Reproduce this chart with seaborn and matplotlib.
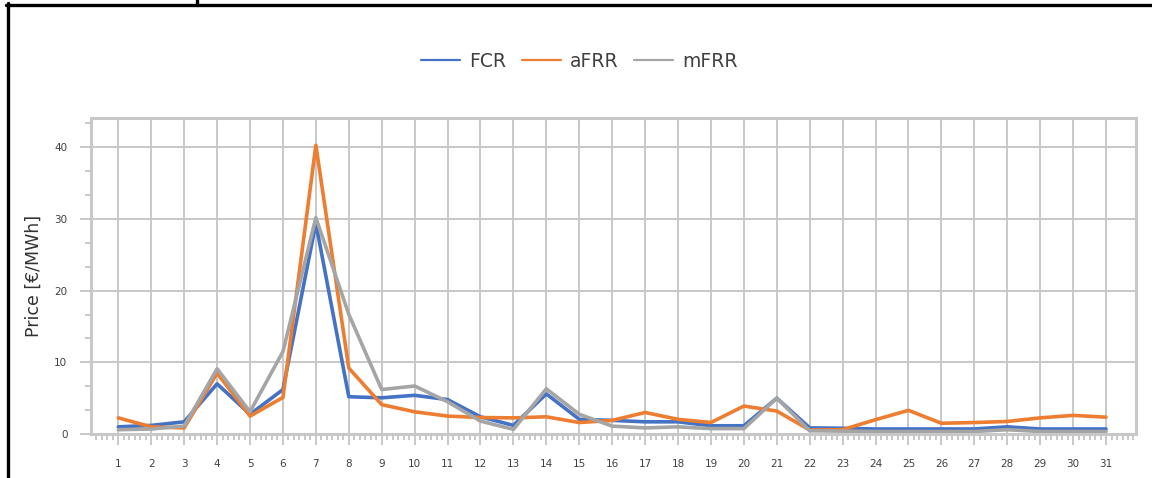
import numpy as np
import pandas as pd
import seaborn as sns
import matplotlib.pyplot as plt
from matplotlib.lines import Line2D
from matplotlib.ticker import MultipleLocator

days = list(range(1, 32))
fcr = [1.0, 1.2, 1.7, 7.0, 2.75, 6.2, 29.4, 5.2, 5.05, 5.4, 4.8, 2.4, 1.2, 5.6, 2.05, 1.9,
       1.7, 1.7, 1.15, 1.15, 5.0, 0.85, 0.8, 0.7, 0.7, 0.7, 0.7, 1.0, 0.7, 0.7, 0.7]
afrr = [2.25, 1.0, 0.85, 8.5, 2.5, 5.1, 40.3, 9.2, 4.1, 3.1, 2.5, 2.3, 2.25, 2.4, 1.6, 1.9,
        3.0, 2.05, 1.6, 3.9, 3.2, 0.55, 0.6, 2.0, 3.3, 1.5, 1.6, 1.75, 2.25, 2.6, 2.35]
mfrr = [0.6, 0.7, 1.1, 9.1, 3.1, 11.5, 30.2, 16.7, 6.2, 6.7, 4.5, 1.8, 0.65, 6.3, 2.75, 1.1,
        0.85, 1.0, 0.75, 0.75, 5.0, 0.45, 0.4, 0.35, 0.35, 0.35, 0.35, 0.6, 0.35, 0.35, 0.35]
products = ["FCR", "aFRR", "mFRR"]
colors = ["#4472C4", "#ED7D31", "#A5A5A5"]

df = pd.DataFrame({
    "day": days * 3,
    "price": fcr + afrr + mfrr,
    "product": np.repeat(products, len(days)),
})

sns.set_style("white")
plt.rcParams["font.family"] = ["DejaVu Sans"]

fig = plt.figure(figsize=(11.52, 4.78), dpi=100)
ax = fig.add_axes([91 / 1152, 44 / 478, 1045 / 1152, 316 / 478])

sns.lineplot(data=df, x="day", y="price", hue="product", hue_order=products,
             palette=colors, linewidth=2.6, ax=ax, legend=False)

grid_c = "#C8C8C8"
ax.set_xlim(0.17, 31.91)
ax.set_ylim(0, 44.1)
ax.xaxis.set_major_locator(MultipleLocator(1))
ax.xaxis.set_minor_locator(MultipleLocator(1 / 6))
ax.yaxis.set_major_locator(MultipleLocator(10))
ax.yaxis.set_minor_locator(MultipleLocator(10 / 3))
ax.grid(True, which="major", color=grid_c, linewidth=1.4)
ax.set_axisbelow(True)
for s in ax.spines.values():
    s.set_color(grid_c)
    s.set_linewidth(2.2)
ax.tick_params(axis="both", which="major", colors=grid_c, labelcolor="#404040",
               labelsize=7.5, width=1.4)
ax.tick_params(axis="x", which="major", length=8, pad=10, bottom=True)
ax.tick_params(axis="x", which="minor", length=4, width=1.4, colors=grid_c, bottom=True)
ax.tick_params(axis="y", which="major", length=8, pad=9, left=True)
ax.tick_params(axis="y", which="minor", length=4, width=1.4, colors=grid_c, left=True)
ax.set_xlabel("")
ax.set_ylabel("Price [€/MWh]", fontsize=12.5, color="#333333")
ax.yaxis.set_label_coords(-0.046, 0.5)

handles = [Line2D([], [], color=c, linewidth=1.6) for c in colors]
fig.legend(handles, products, loc="center", bbox_to_anchor=(0.503, 0.872), ncol=3,
           frameon=False, fontsize=13.5, handlelength=2.1, handletextpad=0.5,
           columnspacing=0.8, labelcolor="#404040")

# black cell borders around the chart
fig.add_artist(Line2D([7.5 / 1152, 7.5 / 1152], [0, 1 - 3 / 478], color="black", linewidth=2.4))
fig.add_artist(Line2D([6 / 1152, 1], [1 - 4.5 / 478, 1 - 4.5 / 478], color="black", linewidth=2.4))
fig.add_artist(Line2D([197 / 1152, 197 / 1152], [1 - 4.5 / 478, 1], color="black", linewidth=2.4))

fig.savefig("out.png", dpi=100)
